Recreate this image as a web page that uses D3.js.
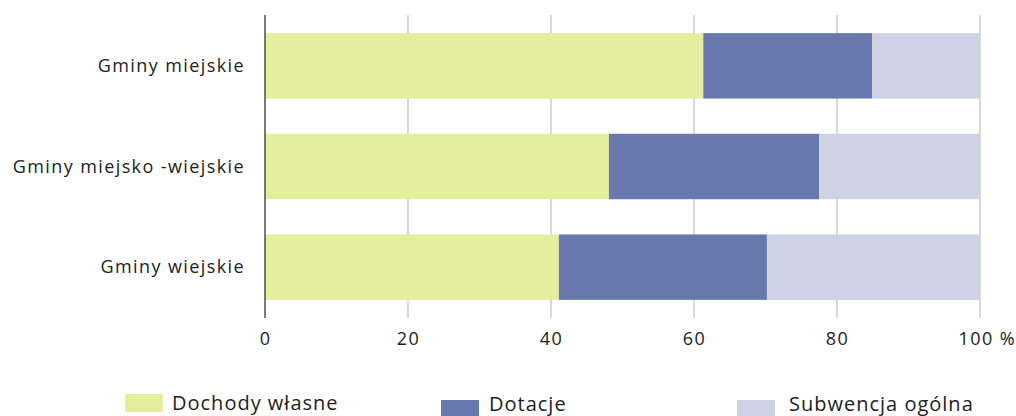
<!DOCTYPE html>
<html>
<head>
<meta charset="utf-8">
<script src="https://cdn.jsdelivr.net/npm/d3@7"></script>
<style>
  body { margin: 0; background: #fff; }
  text { font-family: "Open Sans", "Noto Sans", sans-serif; fill: #222; letter-spacing: 1.4px; }
</style>
</head>
<body>
<div id="chart"></div>
<script>
// Data
var categories = ["Gminy miejskie", "Gminy miejsko -wiejskie", "Gminy wiejskie"];
var seriesNames = ["Dochody własne", "Dotacje", "Subwencja ogólna"];
var dochody = [61.3, 48.1, 41.1];
var dotacje = [23.6, 29.4, 29.1];
var subwencja = [15.1, 22.5, 29.8];
var tickValues = [0, 20, 40, 60, 80, 100];
var colors = ["#e5ee9c", "#6778ad", "#cdd2e5"];

var svgWidth = 1016;
var svgHeight = 416;

var margin = { top: 15, right: 36, bottom: 98, left: 265 };
var width = svgWidth - margin.left - margin.right;
var height = svgHeight - margin.top - margin.bottom;

var svg = d3.select("#chart")
    .append("svg")
    .attr("width", svgWidth)
    .attr("height", svgHeight);

var chartGroup = svg.append("g")
    .attr("transform", `translate(${margin.left}, ${margin.top})`);

// build rows for the stack
var rows = categories.map(function(c, i) {
    return { cat: c, s0: dochody[i], s1: dotacje[i], s2: subwencja[i] };
});
var stack = d3.stack().keys(["s0", "s1", "s2"]);
var stacked = stack(rows);

var xScale = d3.scaleLinear().domain([0, 100]).range([0, width]);
var yScale = d3.scaleBand().domain(categories).range([0, height]).paddingInner(0.35).paddingOuter(0.18);

// gridlines
chartGroup.append("g")
    .selectAll("line")
    .data(tickValues.slice(1))
    .enter()
    .append("line")
    .attr("x1", d => xScale(d))
    .attr("x2", d => xScale(d))
    .attr("y1", 0)
    .attr("y2", height)
    .attr("stroke", "#c4c4c4")
    .attr("stroke-width", 1.3);

// bars
chartGroup.selectAll(".series")
    .data(stacked)
    .enter()
    .append("g")
    .attr("fill", (d, i) => colors[i])
    .selectAll("rect")
    .data(d => d)
    .enter()
    .append("rect")
    .attr("x", d => xScale(d[0]))
    .attr("width", d => xScale(d[1]) - xScale(d[0]))
    .attr("y", d => yScale(d.data.cat))
    .attr("height", yScale.bandwidth());

// y axis line
chartGroup.append("line")
    .attr("x1", 0).attr("x2", 0)
    .attr("y1", 0).attr("y2", height)
    .attr("stroke", "#333")
    .attr("stroke-width", 1.3);

// x tick labels
var bottomAxis = d3.axisBottom(xScale)
    .tickValues(tickValues)
    .tickSize(0)
    .tickPadding(14)
    .tickFormat(d => d === 100 ? "100 %" : d);
var xAxis = chartGroup.append("g")
    .attr("transform", `translate(0, ${height})`)
    .call(bottomAxis);
xAxis.select(".domain").remove();
xAxis.selectAll("text")
    .attr("font-size", "18px")
    .attr("fill", "#222")
    .attr("font-family", "\"Open Sans\", sans-serif")
    .attr("text-anchor", d => d === 100 ? "start" : "middle")
    .attr("dx", d => d === 100 ? -22 : 0);

// category labels
chartGroup.selectAll(".catLabel")
    .data(categories)
    .enter()
    .append("text")
    .attr("class", "catLabel")
    .attr("x", -20)
    .attr("y", d => yScale(d) + yScale.bandwidth() / 2)
    .attr("dy", "0.35em")
    .attr("text-anchor", "end")
    .attr("font-size", "18px")
    .text(d => d);

// legend
var legendX = [125, 441, 737];
var legendY = [394, 400, 400];
var legendTextX = [47, 48, 52];
var legendTextY = [16, 11, 11];
var legend = svg.selectAll(".legend")
    .data(seriesNames)
    .enter()
    .append("g")
    .attr("transform", (d, i) => `translate(${legendX[i]}, ${legendY[i]})`);
legend.append("rect")
    .attr("width", 38)
    .attr("height", 18)
    .attr("fill", (d, i) => colors[i]);
legend.append("text")
    .attr("x", (d, i) => legendTextX[i])
    .attr("y", (d, i) => legendTextY[i])
    .attr("font-size", "20px")
    .style("letter-spacing", "1px")
    .text(d => d);
</script>
</body>
</html>
